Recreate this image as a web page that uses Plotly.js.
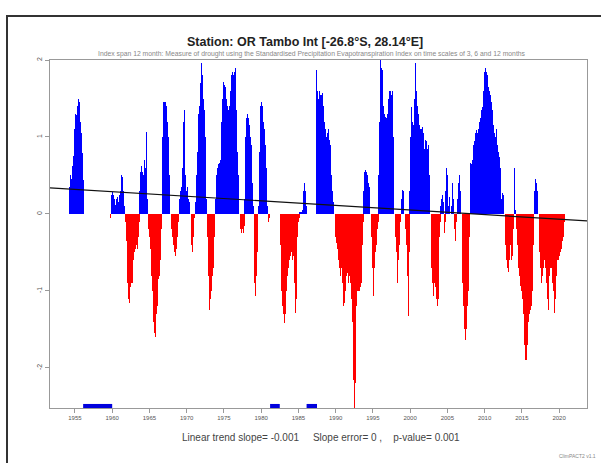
<!DOCTYPE html>
<html>
<head>
<meta charset="utf-8">
<script src="https://cdn.plot.ly/plotly-3.0.1.min.js"></script>
<style>
html,body{margin:0;padding:0;background:#fff;}
#chart{width:601px;height:463px;}
</style>
</head>
<body>
<div id="chart"></div>
<script>
// ---- DATA ----
const titleText = "Station: OR Tambo Int [-26.8°S, 28.14°E]";
const subtitleText = "Index span 12 month: Measure of drought using the Standardised Precipitation Evapotranspiration Index on time scales of 3, 6 and 12 months";
const footerText = "Linear trend slope= -0.001     Slope error= 0 ,    p-value= 0.001";
const creditText = "ClimPACT2 v1.1";

const startYear = 1954;
// monthly SPEI values, one row per year (Jan..Dec), null = missing
const spei = [
/*1954*/ null,null,null,0.35,0.48,0.5,0.45,0.55,0.62,0.75,0.9,1.1,
/*1955*/ 1.25,1.3,1.28,1.32,1.4,1.5,1.72,1.45,1.3,1.2,1.05,0.9,
/*1956*/ 0.79,0.6,0.44,null,null,null,null,null,null,null,null,null,
/*1957*/ null,null,null,null,null,null,null,null,null,null,null,null,
/*1958*/ null,null,null,null,null,null,null,null,null,null,null,null,
/*1959*/ null,null,null,null,null,null,null,null,-0.25,-0.05,0.2,0.25,
/*1960*/ 0.28,0.3,0.25,0.2,0.15,0.12,0.15,0.2,0.22,0.18,0.15,0.2,
/*1961*/ 0.25,0.3,0.4,0.5,0.48,0.35,0.3,0.2,0.1,-0.1,-0.35,-0.6,
/*1962*/ -0.9,-1.0,-1.1,-1.16,-1.05,-0.95,-0.9,-0.85,-0.9,-0.8,-0.6,-0.5,
/*1963*/ -0.55,-0.45,-0.4,-0.35,-0.45,-0.5,-0.3,-0.1,0.3,0.55,0.6,0.62,
/*1964*/ 0.6,0.55,0.5,0.65,0.7,0.6,0.8,1.07,0.5,0.2,-0.2,-0.3,
/*1965*/ -0.35,-0.45,-0.6,-0.8,-1.0,-1.2,-1.4,-1.55,-1.66,-1.6,-1.45,-1.3,
/*1966*/ -1.2,-1.0,-0.85,-0.8,-0.7,-0.6,-0.5,-0.2,0.4,1.0,1.45,1.5,
/*1967*/ 1.45,1.5,1.45,1.4,1.3,1.2,1.0,0.8,0.5,0.2,-0.1,-0.2,
/*1968*/ -0.3,-0.35,-0.4,-0.45,-0.5,-0.55,-0.5,-0.45,-0.3,-0.2,-0.1,-0.05,
/*1969*/ 0.2,0.25,0.3,0.35,0.4,0.6,0.9,1.2,1.35,1.1,0.5,0.3,
/*1970*/ 0.3,0.35,0.25,0.2,0.15,0.1,-0.2,-0.4,-0.55,-0.5,-0.3,-0.1,
/*1971*/ -0.05,0.05,0.15,0.3,0.5,0.8,1.1,1.3,1.4,1.5,1.7,1.9,
/*1972*/ 1.96,1.8,1.6,1.5,1.35,1.2,1.0,0.6,0.2,-0.3,-0.8,-1.1,
/*1973*/ -1.25,-1.2,-1.1,-1.0,-0.9,-0.8,-0.7,-0.5,-0.3,-0.1,0.2,0.5,
/*1974*/ 0.5,0.6,0.66,0.65,0.6,0.66,0.7,0.9,1.2,1.5,1.7,1.72,
/*1975*/ 1.7,1.68,1.65,1.6,1.5,1.45,1.4,1.35,1.3,1.4,1.6,1.75,
/*1976*/ 1.8,1.85,1.85,1.8,1.75,1.85,1.9,1.6,1.35,1.1,0.8,0.5,
/*1977*/ 0.4,-0.1,-0.2,-0.3,-0.25,-0.2,-0.3,-0.25,-0.15,0.2,0.6,1.0,
/*1978*/ 1.25,1.3,1.3,1.25,1.2,1.15,1.1,1.0,0.9,0.7,0.4,0.1,
/*1979*/ -0.5,-0.9,-1.07,-1.0,-0.8,-0.5,-0.2,0.1,0.4,0.8,1.2,1.4,
/*1980*/ 1.46,1.45,1.4,1.3,1.2,1.1,1.0,0.9,0.6,0.3,0.1,-0.1,
/*1981*/ -0.1,-0.05,null,null,null,null,null,null,null,null,null,null,
/*1982*/ null,null,null,null,null,null,-0.4,-0.7,-1.0,-1.1,-1.2,-1.3,
/*1983*/ -1.35,-1.42,-1.3,-1.1,-1.0,-0.9,-0.8,-0.7,-0.6,-0.6,-0.55,-0.55,
/*1984*/ -0.5,-0.55,-0.6,-0.55,-0.6,-0.9,-1.1,-1.29,-1.1,-0.6,-0.3,-0.1,
/*1985*/ -0.1,-0.05,0.02,0.03,0.02,0.03,0.05,0.1,0.3,0.48,0.4,0.3,
/*1986*/ 0.2,0.1,null,null,null,null,null,null,null,null,null,null,
/*1987*/ null,null,null,null,1.7,1.87,1.8,1.6,1.5,1.55,1.6,1.55,
/*1988*/ 1.5,1.55,1.6,1.57,1.4,1.3,1.2,1.1,1.05,1.0,1.0,1.05,
/*1989*/ 1.1,1.05,0.96,0.9,0.7,0.5,0.4,0.3,0.15,0.05,-0.1,-0.3,
/*1990*/ -0.3,-0.38,-0.45,-0.5,-0.6,-0.7,-0.75,-0.8,-0.6,-0.7,-0.9,-1.1,
/*1991*/ -1.2,-1.25,-1.15,-1.0,-0.9,-0.8,-0.77,-0.8,-0.9,-0.85,-0.8,-0.9,
/*1992*/ -0.95,-1.1,-1.4,-1.7,-2.15,-2.4,-2.6,-2.2,-1.6,-1.2,-1.0,-1.05,
/*1993*/ -1.0,-1.05,-1.0,-0.95,-1.0,-0.9,-0.7,-0.4,-0.1,0.3,0.55,0.83,
/*1994*/ 0.57,0.55,0.57,0.5,0.45,0.4,0.35,0.2,-0.1,-0.3,-0.5,-0.7,
/*1995*/ -1.07,-1.0,-0.7,-0.5,-0.45,-0.4,-0.3,-0.2,-0.1,0.5,1.2,1.8,
/*1996*/ 2.04,2.1,1.9,1.87,1.6,1.4,1.3,1.2,1.26,1.2,1.25,1.3,
/*1997*/ 1.4,1.5,1.55,1.6,1.6,1.5,1.55,1.6,1.4,1.0,0.3,-0.1,
/*1998*/ -0.3,-0.5,-0.7,-0.9,-0.85,-0.6,-0.4,-0.2,-0.1,0.1,0.2,0.31,
/*1999*/ 0.25,0.3,0.2,0.0,-0.2,-0.4,-0.6,-0.8,-1.1,-1.33,-0.5,0.3,
/*2000*/ 1.0,1.2,1.39,1.3,1.2,1.15,1.2,1.5,1.96,1.8,1.6,1.5,
/*2001*/ 1.4,1.3,1.2,1.15,1.1,1.05,1.1,1.0,1.13,1.05,0.9,0.85,
/*2002*/ 0.9,0.96,0.95,0.9,0.85,0.9,0.8,0.5,0.1,-0.3,-0.7,-0.9,
/*2003*/ -1.0,-1.07,-1.0,-0.9,-0.95,-1.0,-1.1,-1.2,-1.29,-1.1,-0.7,-0.3,
/*2004*/ -0.1,0.1,0.2,0.22,0.25,0.2,0.15,-0.25,-0.1,0.3,0.6,0.92,
/*2005*/ 0.5,0.2,0.1,0.22,0.15,-0.1,0.1,0.3,0.4,0.48,0.2,-0.2,
/*2006*/ -0.35,-0.3,-0.1,0.1,0.2,0.3,0.4,0.5,0.57,0.3,0.0,-0.5,
/*2007*/ -0.9,-1.2,-1.4,-1.5,-1.64,-1.6,-1.5,-1.4,-1.2,-1.0,-0.7,-0.3,
/*2008*/ 0.4,0.66,0.7,0.65,0.7,0.8,0.9,0.95,1.0,1.05,1.1,1.09,
/*2009*/ 1.05,1.09,1.1,1.15,1.2,1.25,1.3,1.35,1.39,1.45,1.6,1.75,
/*2010*/ 1.85,1.9,1.96,1.85,1.8,1.7,1.65,1.6,1.6,1.55,1.5,1.45,
/*2011*/ 1.35,1.25,1.15,1.1,1.05,1.0,1.0,1.1,1.13,0.9,0.8,0.74,
/*2012*/ 0.74,0.6,0.4,0.2,0.1,0.27,0.25,0.1,-0.2,-0.4,-0.5,-0.6,
/*2013*/ -0.7,-0.81,-0.75,-0.6,-0.5,-0.4,-0.5,-0.6,-0.55,-0.4,-0.2,0.1,
/*2014*/ 0.6,0.3,0.05,-0.2,-0.4,-0.6,-0.7,-0.8,-0.9,-0.94,-0.9,-1.0,
/*2015*/ -1.1,-1.2,-1.3,-1.5,-1.7,-1.9,-2.1,-1.9,-1.7,-1.5,-1.4,-1.35,
/*2016*/ -1.3,-1.25,-1.33,-1.2,-1.0,-0.7,-0.4,-0.1,0.3,0.74,0.45,0.4,
/*2017*/ 0.35,0.3,0.2,-0.2,-0.5,-0.7,-0.8,-0.9,-0.94,-0.8,-0.7,-0.6,
/*2018*/ -0.6,-0.7,-0.8,-0.9,-1.0,-1.1,-1.25,-1.0,-0.8,-0.7,-0.65,-0.7,
/*2019*/ -0.8,-0.9,-1.0,-1.1,-1.29,-1.1,-0.9,-0.8,-0.7,-0.6,-0.6,-0.55,
/*2020*/ -0.55,-0.6,-0.5,-0.45,-0.4,-0.35,-0.3,-0.2,-0.1,0.48,null,null
];

// linear trend end points
const trendYears = [1951.65, 2023.75];
const trendValues = [0.34, -0.09];

// missing-data periods marked on the bottom axis
const missingStart = [1956.1, 1981.2, 1986.1];
const missingEnd   = [1960.0, 1982.5, 1987.5];

const xTickYears = [1955,1960,1965,1970,1975,1980,1985,1990,1995,2000,2005,2010,2015,2020];
const yTickVals = [-2,-1,0,1,2];
const yTickText = ["-2","-1","0","1","2"];

// ---- BUILD ----
const xs = [], pos = [], neg = [];
spei.forEach((v, i) => {
  const yr = startYear + Math.floor(i/12) + ((i % 12) + 0.5)/12;
  xs.push(yr);
  pos.push(v !== null && v > 0 ? v : null);
  neg.push(v !== null && v < 0 ? v : null);
});

const yMin = -2.52, yMax = 2.0;
const traces = [
  {type:'bar', x:xs, y:pos, marker:{color:'#0000ff', line:{width:0}}, width:1/12, hoverinfo:'skip'},
  {type:'bar', x:xs, y:neg, marker:{color:'#ff0000', line:{width:0}}, width:1/12, hoverinfo:'skip'},
  {type:'scatter', mode:'lines', x:trendYears, y:trendValues, line:{color:'#111', width:1.2}, hoverinfo:'skip'}
];
missingStart.forEach((s, i) => {
  traces.push({type:'scatter', mode:'lines', x:[s, missingEnd[i]], y:[yMin+0.02, yMin+0.02],
    line:{color:'#0000dd', width:5}, cliponaxis:false, hoverinfo:'skip'});
});

const L = 50, R = 14, T = 60, B = 55, W = 601, H = 463;
const pw = W - L - R, ph = H - T - B;
const px2x = p => (p - L)/pw;
const py2y = p => (H - B - p)/ph;

const layout = {
  width: W, height: H,
  margin:{l:L, r:R, t:T, b:B, pad:0},
  paper_bgcolor:'#fff', plot_bgcolor:'#fff',
  showlegend:false, bargap:0,
  font:{family:'"Liberation Sans", Arial, sans-serif', color:'#444'},
  xaxis:{range:[1951.65, 2023.75], tickvals:xTickYears, ticktext:xTickYears.map(String),
    ticks:'outside', ticklen:4, tickcolor:'#999', tickfont:{size:6, color:'#555'},
    showline:true, linecolor:'#999', linewidth:1, mirror:true, showgrid:false, zeroline:false},
  yaxis:{range:[yMin, yMax], tickvals:yTickVals, ticktext:yTickText, tickangle:-90,
    ticks:'outside', ticklen:4, tickcolor:'#999', tickfont:{size:7, color:'#555'},
    showline:true, linecolor:'#999', linewidth:1, mirror:true, showgrid:false, zeroline:false},
  shapes:[
    {type:'rect', xref:'paper', yref:'paper', x0:px2x(7), x1:px2x(612), y0:py2y(475), y1:py2y(16),
     line:{color:'#333', width:2}, fillcolor:'rgba(0,0,0,0)', layer:'above'}
  ],
  annotations:[
    {text:'<b>'+titleText+'</b>', xref:'paper', yref:'paper', x:px2x(305), y:py2y(42),
     xanchor:'center', yanchor:'middle', showarrow:false, font:{size:12.5, color:'#222'}},
    {text:subtitleText, xref:'paper', yref:'paper', x:px2x(312), y:py2y(54),
     xanchor:'center', yanchor:'middle', showarrow:false, font:{size:6.8, color:'#888'}},
    {text:footerText, xref:'paper', yref:'paper', x:px2x(321), y:py2y(437),
     xanchor:'center', yanchor:'middle', showarrow:false, font:{size:10, color:'#444'}},
    {text:creditText, xref:'paper', yref:'paper', x:px2x(598), y:py2y(456),
     xanchor:'right', yanchor:'middle', showarrow:false, font:{size:5, color:'#888'}}
  ]
};

Plotly.newPlot('chart', traces, layout, {staticPlot:true, displayModeBar:false});
</script>
</body>
</html>
